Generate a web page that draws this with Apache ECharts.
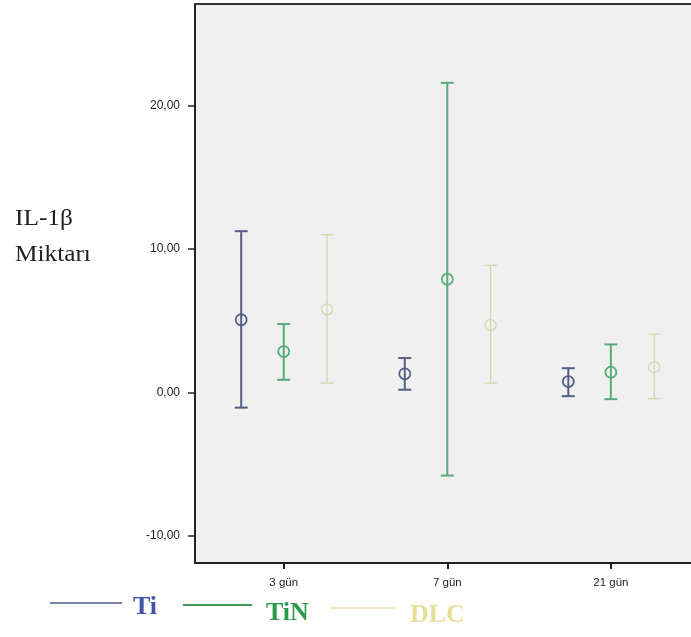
<!DOCTYPE html>
<html><head><meta charset="utf-8">
<script src="https://cdn.jsdelivr.net/npm/echarts@6/dist/echarts.min.js"></script>
<style>html,body{margin:0;padding:0;background:#fff}#c{width:691px;height:637px}</style>
</head><body><div id="c"></div>
<script>
const categories = ['3 gün', '7 gün', '21 gün'];
const groups = ['Ti', 'TiN', 'DLC'];
const tiMean = [5.07, 1.30, 0.76];
const tiLow = [-1.06, 0.19, -0.26];
const tiHigh = [11.25, 2.40, 1.69];
const tinMean = [2.85, 7.90, 1.41];
const tinLow = [0.88, -5.80, -0.47];
const tinHigh = [4.77, 21.60, 3.35];
const dlcMean = [5.80, 4.70, 1.76];
const dlcLow = [0.65, 0.65, -0.44];
const dlcHigh = [11.00, 8.87, 4.07];
const yTicks = [-10, 0, 10, 20];

const groupOffset = [-0.26, 0, 0.265];
const lineColors = ['#555e86', '#5aab78', '#d8d5ae'];
const lineWidths = [2, 2, 1.3];
const means = [tiMean, tinMean, dlcMean];
const lows = [tiLow, tinLow, dlcLow];
const highs = [tiHigh, tinHigh, dlcHigh];

function fmt(v) { return v.toFixed(2).replace('.', ','); }

const series = [];
groups.forEach(function (g, s) {
  const errData = categories.map(function (c, i) { return [i + 1 + groupOffset[s], lows[s][i], highs[s][i]]; });
  const ptData = categories.map(function (c, i) { return [i + 1 + groupOffset[s], means[s][i]]; });
  series.push({
    type: 'custom', name: g + ' err',
    data: errData,
    encode: { x: 0, y: [1, 2] },
    renderItem: function (params, api) {
      const x = api.value(0), lo = api.value(1), hi = api.value(2);
      const a = api.coord([x, lo]), b = api.coord([x, hi]);
      const hw = 6.5;
      const st = { stroke: lineColors[s], lineWidth: lineWidths[s], fill: null };
      return { type: 'group', children: [
        { type: 'line', shape: { x1: a[0], y1: a[1], x2: b[0], y2: b[1] }, style: st },
        { type: 'line', shape: { x1: a[0] - hw, y1: a[1], x2: a[0] + hw, y2: a[1] }, style: st },
        { type: 'line', shape: { x1: b[0] - hw, y1: b[1], x2: b[0] + hw, y2: b[1] }, style: st }
      ] };
    },
    z: 2
  });
  series.push({
    type: 'scatter', name: g,
    data: ptData,
    symbol: 'circle', symbolSize: 11,
    itemStyle: { color: 'rgba(0,0,0,0)', borderColor: lineColors[s], borderWidth: lineWidths[s] === 2 ? 1.8 : 1.3, opacity: 1 },
    z: 3
  });
});

const chart = echarts.init(document.getElementById('c'));
chart.setOption({
  animation: false,
  backgroundColor: '#ffffff',
  grid: { left: 195, top: 4, right: 0, bottom: 74, show: true, backgroundColor: '#f0f0f0', borderWidth: 0 },
  xAxis: [{
    type: 'value', min: 0.4575, max: 3.49,
    splitLine: { show: false },
    axisLine: { show: true, onZero: false, lineStyle: { color: '#222', width: 2 } },
    axisTick: { show: true, length: 6, lineStyle: { color: '#222', width: 2 }, customValues: [1, 2, 3] },
    axisLabel: { customValues: [1, 2, 3], margin: 14, fontSize: 11.5, color: '#222', fontFamily: 'Liberation Sans',
      formatter: function (v) { return categories[Math.round(v) - 1]; } }
  }, {
    type: 'value', position: 'top', min: 0.4575, max: 3.49,
    splitLine: { show: false },
    axisLine: { show: true, onZero: false, lineStyle: { color: '#333', width: 2 } },
    axisTick: { show: false }, axisLabel: { show: false }
  }],
  yAxis: {
    type: 'value', min: -11.9, max: 27.1,
    splitLine: { show: false },
    axisLine: { show: true, onZero: false, lineStyle: { color: '#222', width: 2 } },
    axisTick: { show: true, length: 7, lineStyle: { color: '#222', width: 1.5 }, customValues: yTicks },
    axisLabel: { customValues: yTicks, margin: 15, fontSize: 12, color: '#222', fontFamily: 'Liberation Sans', formatter: fmt }
  },
  series: series,
  graphic: [
    { type: 'text', left: 15, top: 207, scaleX: 1.1, style: { text: 'IL-1β', font: '23px "Liberation Serif"', fill: '#222' } },
    { type: 'text', left: 15, top: 243, scaleX: 1.1, style: { text: 'Miktarı', font: '23px "Liberation Serif"', fill: '#222' } },
    { type: 'line', shape: { x1: 50, y1: 603, x2: 122, y2: 603 }, style: { stroke: '#4a5a8e', lineWidth: 1.5 } },
    { type: 'text', left: 133, top: 594, style: { text: 'Ti', font: 'bold 26px "Liberation Serif"', fill: '#4054a8' } },
    { type: 'line', shape: { x1: 183, y1: 605, x2: 252, y2: 605 }, style: { stroke: '#3f9a5e', lineWidth: 2 } },
    { type: 'text', left: 266, top: 600, style: { text: 'TiN', font: 'bold 26px "Liberation Serif"', fill: '#2f9a4c' } },
    { type: 'line', shape: { x1: 330, y1: 608, x2: 396, y2: 608 }, style: { stroke: '#ebe3ad', lineWidth: 1.5 } },
    { type: 'text', left: 410, top: 602, style: { text: 'DLC', font: 'bold 26px "Liberation Serif"', fill: '#e8df96' } }
  ]
});
</script>
</body></html>
